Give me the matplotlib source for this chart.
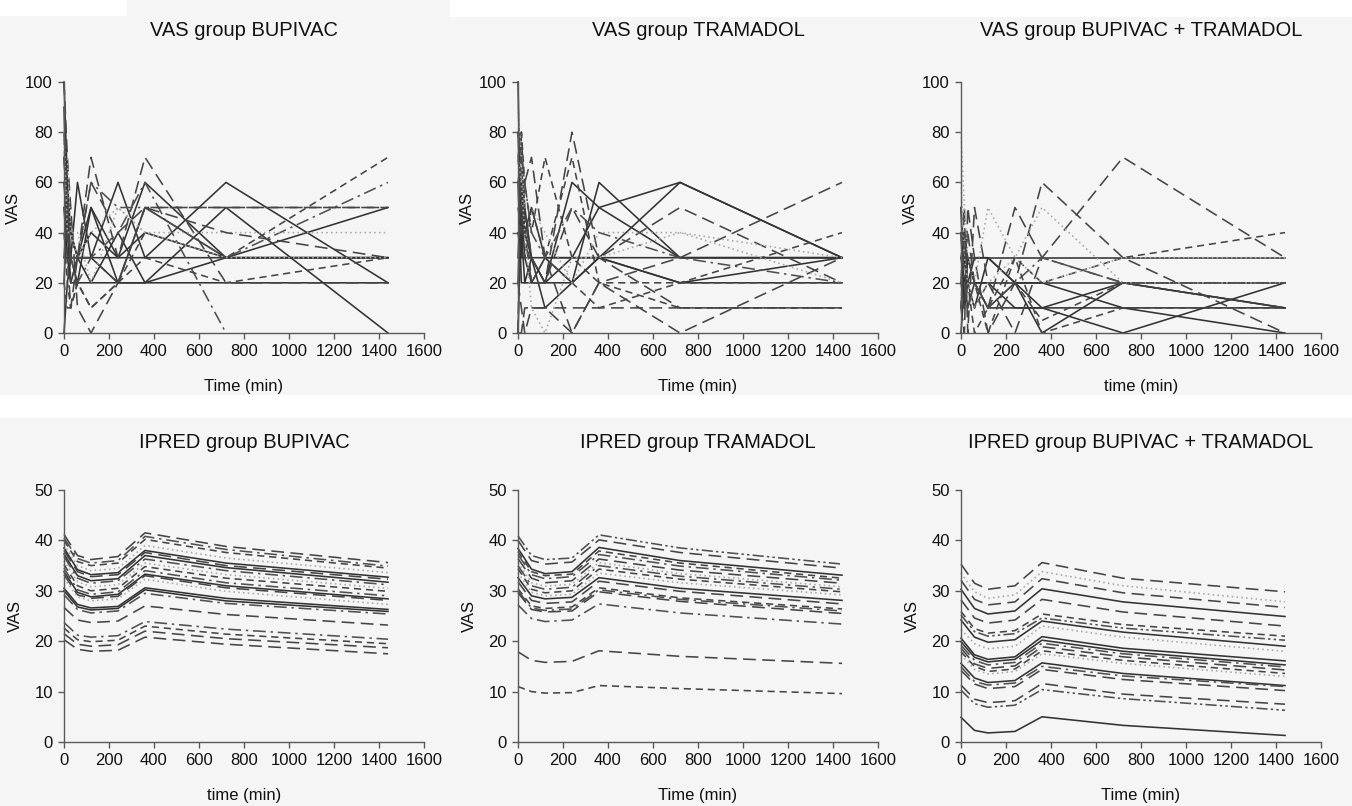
import matplotlib
matplotlib.use("Agg")
import matplotlib.pyplot as plt
from matplotlib.patches import Rectangle

plt.rcParams['font.family'] = ['Liberation Sans', 'DejaVu Sans']

NA = float('nan')  # missing observation

# sampling times (min)
t_vas = [0, 15, 30, 60, 120, 240, 360, 720, 1440]
t_ipred = [0, 60, 120, 240, 360, 720, 1440]

# observed VAS per patient
vas_bupi = [
    [90, 40, 30, 30, 30, 30, 30, 30, 30],
    [60, 40, 20, 20, 20, 20, 20, 20, 20],
    [0, 20, 30, 60, 30, 60, 30, 60, 20],
    [20, 50, 40, 30, 50, 30, 60, 30, 50],
    [70, 50, 30, 30, 20, 40, 20, 50, 0],
    [100, 60, 40, 30, 30, 20, 50, 30, 30],
    [50, 30, 20, 30, 40, 30, 40, 30, 30],
    [30, 30, 30, 20, 50, 20, 20, 30, 30],
    [80, 30, 10, 30, 70, 30, 70, 20, 20],
    [100, 70, 50, 10, 0, 20, 50, 50, 50],
    [70, 40, 30, 20, 30, 40, 60, 0, NA],
    [40, 20, 10, 20, 10, 20, 40, 30, 70],
    [60, 50, 30, 30, 60, 50, 50, 30, 60],
    [70, 70, 40, 30, 40, 50, 40, 40, 40],
    [30, 50, 20, 30, 30, 20, 50, 50, 50],
    [20, 10, 10, 20, 10, 20, 30, 20, 30],
    [50, 40, 30, 30, 60, 40, 50, 40, 30],
    [80, 40, 40, 40, 20, 50, 40, 30, 30],
]
vas_bupi_ls = ['solid'] * 8 + ['ldash', 'ldash', 'dashdot', 'dash', 'dashdot',
                               'dot', 'ldash', 'dash', 'ldash', 'dot']

vas_tram = [
    [100, 30, 30, 30, 30, 30, 30, 30, 30],
    [60, 20, 20, 20, 20, 20, 30, 60, 30],
    [20, 60, 40, 30, 20, 60, 50, 30, 30],
    [0, 50, 30, 20, 30, 20, 60, 30, 30],
    [40, 30, 50, 30, 20, 30, 50, 60, 30],
    [30, 60, 40, 50, 30, 30, 30, 20, 20],
    [80, 40, 20, 30, 10, 20, 30, 20, 30],
    [0, 80, 50, 30, 20, 80, 30, 10, 10],
    [70, 80, 60, 40, 70, 30, 20, 10, 10],
    [0, 0, 10, 10, 10, 10, 10, 10, 10],
    [80, 70, 50, 20, 30, 70, 20, 20, 20],
    [60, 70, 40, 20, 20, 50, 30, 50, 20],
    [50, 40, 60, 70, 30, 0, 20, 0, 30],
    [20, 10, 0, 10, 10, 0, 20, 30, 60],
    [70, 50, 30, 50, 30, 20, 10, 20, 40],
    [90, 70, 50, 50, 40, 20, 40, 40, 30],
    [70, 60, 40, 10, 0, 30, 30, 40, 20],
    [80, 70, 60, 40, 30, 50, 40, 30, 20],
]
vas_tram_ls = ['solid'] * 7 + ['ldash', 'dash', 'ldash', 'dash', 'ldash', 'ldash',
                               'ldash', 'dash', 'dot', 'dot', 'dashdot']

vas_combo = [
    [30, 30, 30, 30, 30, 30, 30, 30, 30],
    [20, 20, 20, 20, 20, 20, 20, 20, 20],
    [30, 20, 30, 20, 10, 10, 10, 10, 10],
    [50, 10, 20, 30, 30, 20, 0, 20, 10],
    [10, 30, 20, 10, 30, 20, 10, 20, 10],
    [0, 20, 10, 20, 10, 20, 20, 10, 0],
    [40, 10, 30, 20, 20, 10, 10, 0, 20],
    [20, 50, 0, 50, 20, 0, 30, 70, 30],
    [10, 0, 50, 30, 0, 20, 60, 30, 0],
    [50, 30, 40, 20, 10, 50, 30, 20, 20],
    [30, 40, 20, 10, 20, 20, 5, 20, 10],
    [20, 10, 20, 0, 10, 30, 20, 30, 40],
    [80, 50, 30, 20, 50, 30, 50, 20, 20],
    [60, 30, 20, 10, 20, 30, 20, 30, 30],
    [40, 20, 10, 20, 10, 20, 30, 20, 20],
    [10, 40, 30, 20, 0, 30, 0, 10, 10],
]
vas_combo_ls = ['solid'] * 7 + ['ldash', 'ldash', 'ldash', 'dash', 'dash',
                               'dot', 'dot', 'dashdot', 'dash']

# individual model predictions
ipred_bupi = [
    [41.2, 37.0, 36.2, 36.8, 41.5, 38.8, 35.6],
    [40.5, 36.4, 35.5, 36.0, 40.8, 38.2, 34.9],
    [40.0, 35.8, 35.0, 35.5, 40.2, 37.6, 34.5],
    [39.2, 35.0, 34.0, 34.4, 39.0, 36.5, 33.6],
    [38.5, 34.2, 33.2, 33.6, 38.0, 35.5, 32.7],
    [38.0, 33.8, 32.8, 33.2, 37.6, 35.0, 32.3],
    [37.3, 33.0, 32.0, 32.4, 37.0, 34.6, 31.7],
    [36.8, 32.5, 31.5, 32.0, 36.3, 34.0, 31.2],
    [36.0, 31.8, 30.8, 31.2, 35.5, 33.2, 30.5],
    [35.2, 31.0, 30.0, 30.5, 34.8, 32.5, 29.9],
    [34.5, 30.2, 29.3, 29.8, 34.0, 31.6, 29.0],
    [33.8, 29.7, 28.8, 29.3, 33.3, 31.0, 28.4],
    [33.2, 29.2, 28.5, 28.9, 33.0, 30.6, 28.1],
    [32.5, 28.8, 28.0, 28.4, 32.3, 29.9, 27.3],
    [30.5, 27.3, 26.6, 26.9, 30.6, 28.5, 26.3],
    [30.0, 26.8, 26.2, 26.5, 30.2, 28.0, 25.9],
    [29.2, 26.3, 25.6, 26.0, 29.5, 27.5, 25.4],
    [26.7, 24.2, 23.7, 24.0, 27.0, 25.3, 23.2],
    [23.7, 21.2, 20.8, 21.1, 23.9, 22.4, 20.4],
    [22.6, 20.3, 19.9, 20.2, 23.0, 21.4, 19.5],
    [21.5, 19.4, 19.0, 19.3, 22.0, 20.5, 18.7],
    [20.3, 18.4, 18.0, 18.2, 20.8, 19.4, 17.5],
]
ipred_bupi_ls = ['ldash', 'dashdot', 'dash', 'dot', 'solid', 'ldash', 'solid',
                 'dashdot', 'dot', 'dash', 'dashdot', 'solid', 'ldash', 'dot',
                 'solid', 'solid', 'dashdot', 'ldash', 'dashdot', 'dash',
                 'ldash', 'ldash']

ipred_tram = [
    [40.9, 37.0, 36.2, 36.5, 41.1, 38.5, 35.3],
    [40.0, 36.0, 35.3, 35.7, 40.1, 37.6, 34.5],
    [38.4, 34.3, 33.4, 33.8, 38.6, 36.0, 33.1],
    [37.8, 33.8, 33.0, 33.3, 37.9, 35.5, 32.5],
    [37.2, 33.2, 32.4, 32.8, 37.2, 34.9, 32.1],
    [36.4, 32.5, 31.6, 32.0, 36.3, 34.1, 31.5],
    [35.6, 31.6, 30.9, 31.3, 35.6, 33.4, 30.8],
    [35.0, 31.0, 30.3, 30.7, 35.0, 32.9, 30.3],
    [34.4, 30.3, 29.6, 30.0, 34.3, 32.3, 29.8],
    [33.6, 29.7, 29.0, 29.3, 33.5, 31.6, 29.2],
    [32.6, 29.0, 28.4, 28.7, 32.6, 30.5, 28.1],
    [31.8, 28.1, 27.5, 27.8, 31.9, 29.9, 27.4],
    [30.4, 27.0, 26.5, 26.8, 30.6, 28.6, 26.4],
    [30.0, 26.6, 26.1, 26.4, 30.2, 28.3, 26.0],
    [29.6, 26.3, 25.8, 26.0, 29.8, 27.9, 25.5],
    [27.2, 24.5, 23.9, 24.2, 27.4, 25.6, 23.4],
    [17.9, 16.2, 15.8, 16.0, 18.1, 17.0, 15.6],
    [11.0, 10.0, 9.7, 9.8, 11.2, 10.6, 9.6],
]
ipred_tram_ls = ['dashdot2', 'ldash', 'solid', 'dash', 'dashdot', 'ldash', 'dot',
                 'dashdot', 'dash', 'dot', 'solid', 'ldash', 'dash', 'dashdot',
                 'ldash', 'dashdot', 'ldash', 'dash']

ipred_combo = [
    [35.3, 31.5, 30.3, 31.0, 35.6, 32.5, 29.8],
    [33.5, 29.8, 28.5, 29.2, 33.8, 31.0, 27.8],
    [32.1, 28.3, 27.2, 27.8, 32.4, 29.6, 26.7],
    [30.3, 26.5, 25.4, 26.0, 30.4, 27.8, 24.9],
    [28.2, 24.6, 23.6, 24.2, 28.3, 25.8, 23.0],
    [25.9, 22.5, 21.6, 22.1, 25.4, 23.3, 21.0],
    [25.2, 21.9, 21.0, 21.5, 24.6, 22.6, 20.2],
    [24.2, 20.8, 19.8, 20.3, 24.0, 21.8, 19.0],
    [22.3, 19.5, 18.5, 19.0, 23.0, 20.8, 18.0],
    [20.6, 17.3, 16.4, 16.9, 20.9, 18.6, 16.1],
    [19.9, 16.8, 15.9, 16.4, 20.2, 18.0, 15.3],
    [19.2, 16.2, 15.3, 15.8, 19.6, 17.5, 14.9],
    [18.6, 15.5, 14.6, 15.1, 18.9, 16.9, 14.3],
    [17.9, 15.0, 14.0, 14.5, 18.1, 16.2, 13.6],
    [17.3, 14.4, 13.5, 14.0, 17.5, 15.6, 13.0],
    [15.6, 12.7, 11.8, 12.2, 15.7, 13.6, 11.2],
    [14.9, 12.0, 11.3, 11.7, 15.0, 13.1, 11.0],
    [14.2, 11.5, 10.6, 11.0, 14.4, 12.4, 10.2],
    [11.3, 8.5, 7.8, 8.2, 11.6, 9.5, 7.5],
    [10.3, 7.6, 6.9, 7.3, 10.4, 8.6, 6.3],
    [4.9, 2.3, 1.8, 2.1, 5.0, 3.3, 1.3],
]
ipred_combo_ls = ['ldash', 'dot', 'ldash', 'solid', 'ldash', 'dash', 'dashdot2',
                  'solid', 'dot', 'solid', 'solid', 'dashdot', 'ldash', 'dash',
                  'dot', 'solid', 'dashdot', 'ldash', 'ldash', 'dashdot2', 'solid']

# line looks
styles = {
    'solid': dict(color='#333333', linestyle='-'),
    'dash': dict(color='#454545', dashes=(4.5, 3)),
    'ldash': dict(color='#454545', dashes=(8, 4)),
    'dashdot': dict(color='#505050', dashes=(8, 3, 1.5, 3)),
    'dashdot2': dict(color='#505050', dashes=(7, 2, 1.5, 2, 1.5, 2)),
    'dot': dict(color='#a8a8a8', dashes=(1, 2)),
}

W, H = 1352, 806
fig = plt.figure(figsize=(W / 100, H / 100), dpi=100, facecolor='#f5f5f5')

# white strips around the panel blocks (kept behind everything)
for x0, y0, w, h in [(0, 0, 127, 16), (450, 0, 902, 17), (0, 395, W, 23)]:
    fig.patches.append(Rectangle((x0 / W, 1 - (y0 + h) / H), w / W, h / H,
                                 transform=fig.transFigure, facecolor='white',
                                 edgecolor='none', zorder=-5))


def make_ax(left_px, top_px, bottom_px):
    return fig.add_axes([left_px / W, 1 - bottom_px / H, 360 / W,
                         (bottom_px - top_px) / H])


def draw_panel(ax, t, series, kinds, ymax, step, title, xlabel, tpad, ylpad):
    for vals, kind in zip(series, kinds):
        ax.plot(t, vals, lw=1.15, clip_on=False, **styles[kind])
    ax.set_xlim(0, 1600)
    ax.set_ylim(0, ymax)
    ax.set_xticks(range(0, 1601, 200))
    ax.set_yticks(range(0, ymax + 1, step))
    ax.set_facecolor('none')
    for side in ('top', 'right'):
        ax.spines[side].set_visible(False)
    for side in ('left', 'bottom'):
        ax.spines[side].set_color('#5a5a5a')
        ax.spines[side].set_linewidth(1.0)
    ax.tick_params(direction='out', length=4, width=1, color='#5a5a5a',
                   labelsize=12, labelcolor='#111111', pad=4)
    ax.set_title(title, fontsize=14.5, color='#111111', pad=tpad)
    ax.set_xlabel(xlabel, fontsize=12, color='#111111', labelpad=14)
    ax.set_ylabel('VAS', fontsize=12, color='#111111', labelpad=ylpad)


lefts = [64, 518, 961]

ax = make_ax(lefts[0], 82, 333)
draw_panel(ax, t_vas, vas_bupi, vas_bupi_ls, 100, 20,
           'VAS group BUPIVAC', 'Time (min)', 33, 3)
ax = make_ax(lefts[1], 82, 333)
draw_panel(ax, t_vas, vas_tram, vas_tram_ls, 100, 20,
           'VAS group TRAMADOL', 'Time (min)', 33, 3)
ax = make_ax(lefts[2], 82, 333)
draw_panel(ax, t_vas, vas_combo, vas_combo_ls, 100, 20,
           'VAS group BUPIVAC + TRAMADOL', 'time (min)', 33, 3)

ax = make_ax(lefts[0], 490, 742)
draw_panel(ax, t_ipred, ipred_bupi, ipred_bupi_ls, 50, 10,
           'IPRED group BUPIVAC', 'time (min)', 30, 8)
ax = make_ax(lefts[1], 490, 742)
draw_panel(ax, t_ipred, ipred_tram, ipred_tram_ls, 50, 10,
           'IPRED group TRAMADOL', 'Time (min)', 30, 8)
ax = make_ax(lefts[2], 490, 742)
draw_panel(ax, t_ipred, ipred_combo, ipred_combo_ls, 50, 10,
           'IPRED group BUPIVAC + TRAMADOL', 'Time (min)', 30, 8)

fig.savefig('out.png', dpi=100, facecolor=fig.get_facecolor())
